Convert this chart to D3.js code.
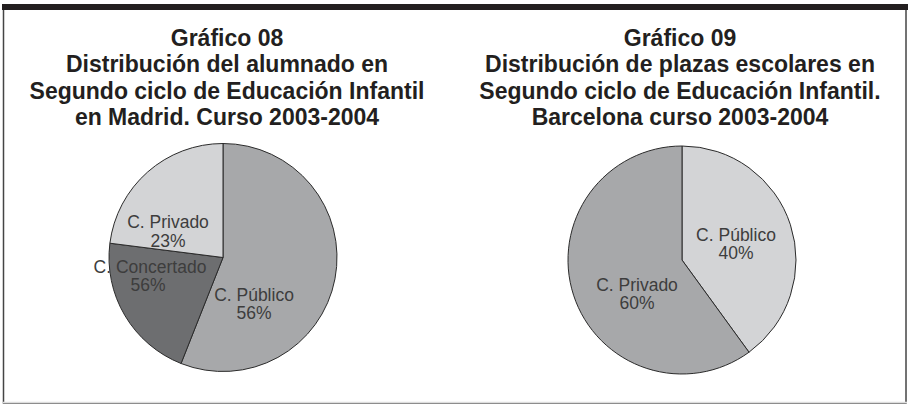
<!DOCTYPE html>
<html>
<head>
<meta charset="utf-8">
<script src="https://cdn.jsdelivr.net/npm/d3@7"></script>
<style>
  html, body { margin: 0; padding: 0; background: #fff; }
  svg { display: block; }
</style>
</head>
<body>
<svg id="chart" width="910" height="404"></svg>
<script>
// Gráfico 08 — alumnado, Madrid 2003-2004
const madridCategories = ["C. Público", "C. Concertado", "C. Privado"];
const madridValues = [56, 21, 23];
const madridLabels = ["56%", "56%", "23%"];
const madridTitle = [
  "Gráfico 08",
  "Distribución del alumnado en",
  "Segundo ciclo de Educación Infantil",
  "en Madrid. Curso 2003-2004"
];

// Gráfico 09 — plazas escolares, Barcelona 2003-2004
const bcnCategories = ["C. Público", "C. Privado"];
const bcnValues = [40, 60];
const bcnLabels = ["40%", "60%"];
const bcnTitle = [
  "Gráfico 09",
  "Distribución de plazas escolares en",
  "Segundo ciclo de Educación Infantil.",
  "Barcelona curso 2003-2004"
];

const svg = d3.select("#chart");
const W = 910, H = 404;

// outer frame
svg.append("rect")
  .attr("x", 3.5).attr("y", 5).attr("width", W - 7.5).attr("height", H - 6)
  .attr("fill", "none").attr("stroke", "#444").attr("stroke-width", 1.5);
svg.append("line")
  .attr("x1", 3).attr("x2", W - 3).attr("y1", H - 1.5).attr("y2", H - 1.5)
  .attr("stroke", "#ddd").attr("stroke-width", 1.5);
svg.append("rect")
  .attr("x", 2).attr("y", 4).attr("width", W - 4).attr("height", 6)
  .attr("fill", "#231f20");

const fills = {
  medium: "#a7a8aa",
  dark: "#6d6e70",
  light: "#d3d4d6"
};

function drawPie(opts) {
  const g = svg.append("g").attr("transform", `translate(${opts.cx},${opts.cy})`);

  // title block
  const t = svg.append("text")
    .attr("text-anchor", "middle")
    .attr("font-family", "'Liberation Sans', Arial, sans-serif")
    .attr("font-weight", "bold")
    .attr("font-size", 23)
    .attr("fill", "#231f20");
  opts.title.forEach((line, i) => {
    t.append("tspan").attr("x", opts.tx).attr("y", 45.5 + i * 26.5).text(line);
  });

  const data = opts.categories.map((c, i) => ({
    cat: c, value: opts.values[i], label: opts.labels[i],
    fill: opts.fills[i], pos: opts.labelPos[i]
  }));

  const pie = d3.pie().sort(null).value(d => d.value);
  const arc = d3.arc().innerRadius(0).outerRadius(opts.r);
  const arcs = pie(data);

  g.selectAll("path.slice").data(arcs).join("path")
    .attr("class", "slice")
    .attr("d", arc)
    .attr("fill", d => d.data.fill)
    .attr("stroke", "#2b2b2b")
    .attr("stroke-width", 1)
    .attr("stroke-linejoin", "round");

  const lbl = g.selectAll("text.lbl").data(arcs).join("text")
    .attr("class", "lbl")
    .attr("text-anchor", "middle")
    .attr("font-family", "'Liberation Sans', Arial, sans-serif")
    .attr("font-size", 17.5)
    .attr("fill", "#3d3d3d");
  lbl.append("tspan")
    .attr("x", d => d.data.pos[0])
    .attr("y", d => d.data.pos[1])
    .text(d => d.data.cat);
  lbl.append("tspan")
    .attr("x", d => d.data.pos[2])
    .attr("y", d => d.data.pos[1] + 18.5)
    .text(d => d.data.label);
}

drawPie({
  cx: 223, cy: 257.5, r: 114, tx: 227,
  title: madridTitle,
  categories: madridCategories,
  values: madridValues,
  labels: madridLabels,
  fills: [fills.medium, fills.dark, fills.light],
  labelPos: [[31, 43, 31], [-73, 15, -75], [-55, -29.5, -55]]
});

drawPie({
  cx: 682, cy: 260, r: 114, tx: 680,
  title: bcnTitle,
  categories: bcnCategories,
  values: bcnValues,
  labels: bcnLabels,
  fills: [fills.light, fills.medium],
  labelPos: [[54, -19.5, 54], [-45, 30.5, -45]]
});
</script>
</body>
</html>
